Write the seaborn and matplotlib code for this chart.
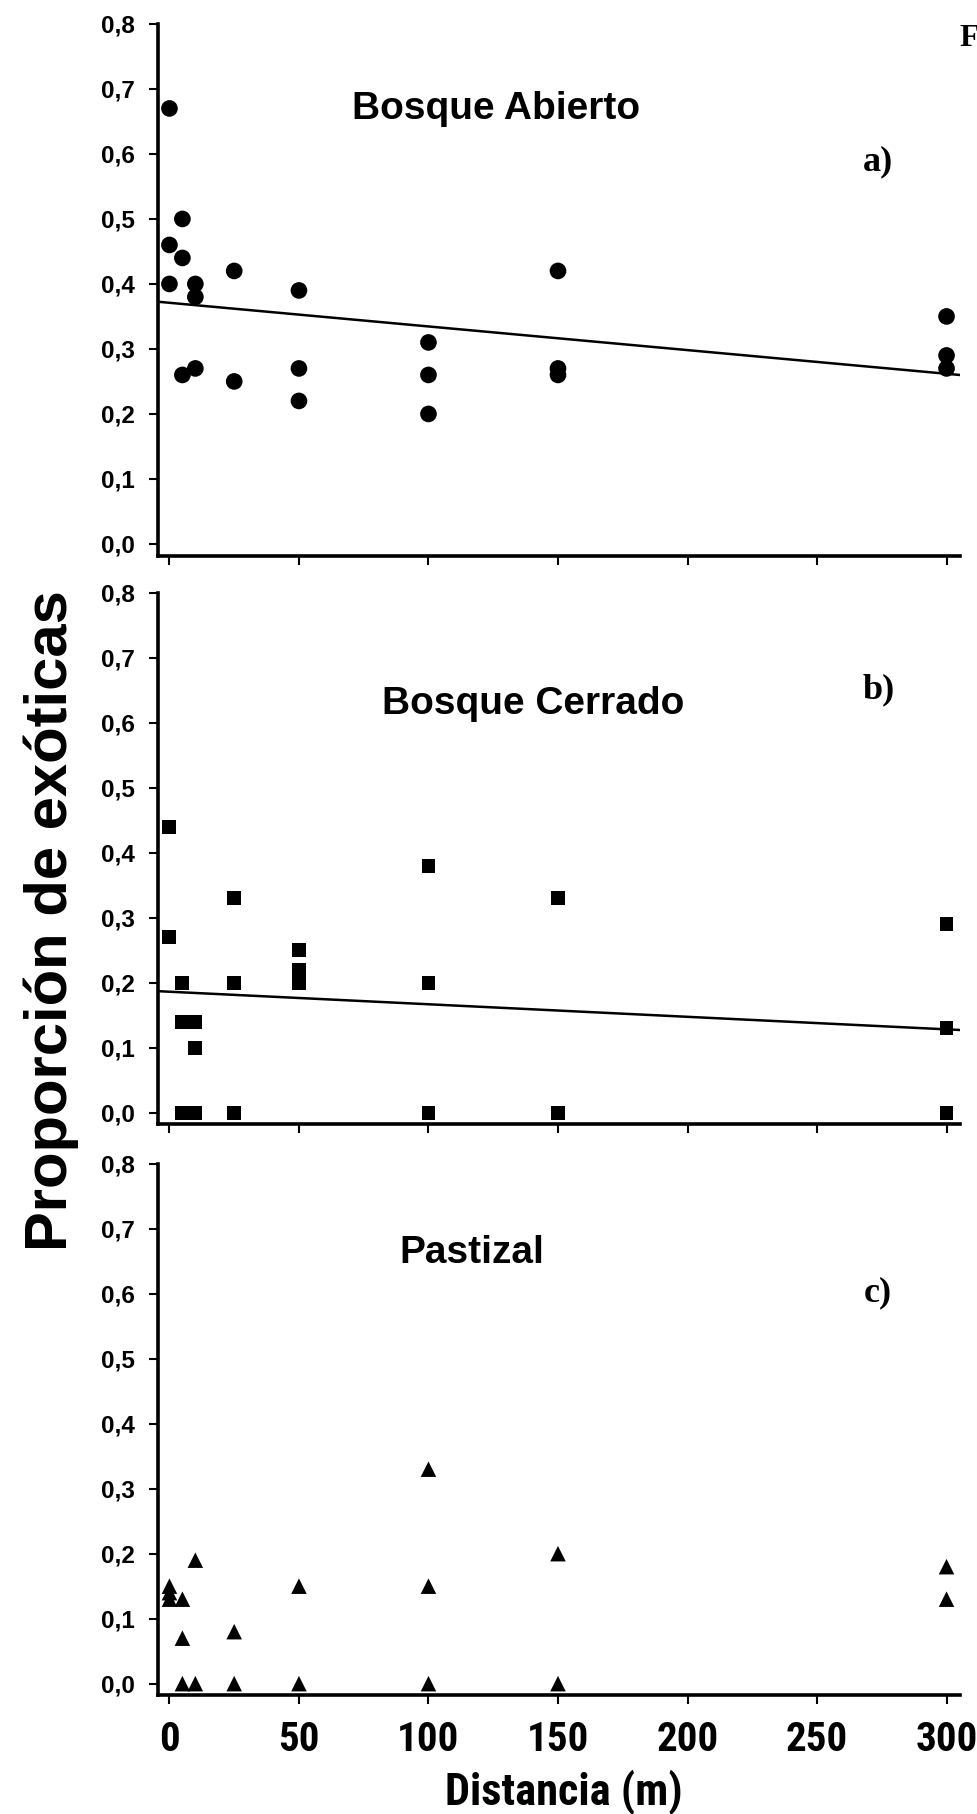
import pandas as pd
import matplotlib.pyplot as plt
import seaborn as sns
from matplotlib import font_manager

# panel a) Bosque Abierto
dist_a = [0, 0, 0, 5, 5, 5, 10, 10, 10, 25, 25, 50, 50, 50, 100, 100, 100, 150, 150, 150, 300, 300, 300]
prop_a = [0.67, 0.46, 0.40, 0.50, 0.44, 0.26, 0.40, 0.38, 0.27, 0.42, 0.25, 0.39, 0.27, 0.22,
          0.31, 0.26, 0.20, 0.42, 0.27, 0.26, 0.35, 0.29, 0.27]
fit_a = (0.371, -0.000364)   # intercept, slope as drawn

# panel b) Bosque Cerrado
dist_b = [0, 0, 5, 5, 5, 10, 10, 10, 25, 25, 25, 50, 50, 50, 50, 100, 100, 100, 150, 150, 300, 300, 300]
prop_b = [0.44, 0.27, 0.20, 0.14, 0.00, 0.14, 0.10, 0.00, 0.33, 0.20, 0.00, 0.25, 0.22, 0.21, 0.20,
          0.38, 0.20, 0.00, 0.33, 0.00, 0.29, 0.13, 0.00]
fit_b = (0.186, -0.000193)

# panel c) Pastizal
dist_c = [0, 0, 0, 5, 5, 5, 10, 10, 25, 25, 50, 50, 100, 100, 100, 150, 150, 300, 300]
prop_c = [0.15, 0.14, 0.13, 0.13, 0.07, 0.00, 0.19, 0.00, 0.08, 0.00, 0.15, 0.00, 0.33, 0.15, 0.00,
          0.20, 0.00, 0.18, 0.13]

titles = ['Bosque Abierto', 'Bosque Cerrado', 'Pastizal']
letters = ['a)', 'b)', 'c)']
x_ticks = [0, 50, 100, 150, 200, 250, 300]
y_ticks = [0.0, 0.1, 0.2, 0.3, 0.4, 0.5, 0.6, 0.7, 0.8]
y_ticklabels = ['0,0', '0,1', '0,2', '0,3', '0,4', '0,5', '0,6', '0,7', '0,8']

sns.set_style('ticks')
plt.rcParams['font.family'] = ['Liberation Sans', 'DejaVu Sans']
plt.rcParams['text.color'] = 'black'
plt.rcParams['xtick.color'] = 'black'
plt.rcParams['ytick.color'] = 'black'
plt.rcParams['xtick.labelcolor'] = 'black'
plt.rcParams['ytick.labelcolor'] = 'black'


def find_narrow_bold():
    # look for a bold condensed/narrow face, as in the original (Arial Narrow Bold)
    prefs = ['Liberation Sans Narrow', 'Arial Narrow', 'Roboto Condensed', 'Open Sans Condensed',
             'Noto Sans Condensed', 'DejaVu Sans']
    found = {}
    for f in font_manager.fontManager.ttflist:
        w = f.weight if isinstance(f.weight, int) else (700 if 'bold' in str(f.weight) else 400)
        if w < 600 or f.style != 'normal':
            continue
        fn = f.fname.lower()
        narrowish = ('narrow' in f.name.lower() or 'condensed' in f.name.lower()
                     or 'condensed' in f.stretch or 'narrow' in fn or 'condensed' in fn)
        if not narrowish or 'semicondensed' in fn or 'extracondensed' in fn:
            continue
        for p in prefs:
            if f.name.startswith(p.split()[0]) and p not in found:
                found[p] = f.fname
    for p in prefs:
        if p in found:
            return font_manager.FontProperties(fname=found[p])
    return font_manager.FontProperties(family='Liberation Sans', weight='bold')


narrow_fp = find_narrow_bold()

XLIM = (-4.4, 305.2)
YLIM = (-0.018, 0.8)

fig = plt.figure(figsize=(9.78, 18.14), dpi=100)

panels = [
    (dist_a, prop_a, 'o', 144, fit_a, 0.6937, (0.4214, 0.822), (0.898, 0.725)),
    (dist_b, prop_b, 's', 100, fit_b, 0.3802, (0.4676, 0.771), (0.898, 0.801)),
    (dist_c, prop_c, '^', 125, None, 0.0654, (0.391, 0.813), (0.898, 0.742)),
]

for i, (xs, ys, mk, size, fit, bottom, tpos, lpos) in enumerate(panels):
    ax = fig.add_axes([0.1616, bottom, 0.8200, 0.2931])
    df = pd.DataFrame({'dist': xs, 'prop': ys})
    sns.scatterplot(data=df, x='dist', y='prop', marker=mk, s=size, color='black',
                    edgecolor='none', ax=ax, zorder=3)
    if fit is not None:
        line = pd.DataFrame({'dist': list(XLIM)})
        line['prop'] = fit[0] + fit[1] * line['dist']
        sns.lineplot(data=line, x='dist', y='prop', color='black', linewidth=1.8, ax=ax)

    ax.set_xlim(*XLIM)
    ax.set_ylim(*YLIM)
    ax.set_xticks(x_ticks)
    ax.set_yticks(y_ticks)
    ax.set_yticklabels(y_ticklabels, fontsize=17.5, fontweight='bold')
    if i == 2:
        fp = narrow_fp.copy()
        fp.set_size(29.5)
        ax.set_xticklabels([str(t) for t in x_ticks], fontproperties=fp)
    else:
        ax.set_xticklabels([])
    ax.set_xlabel('')
    ax.set_ylabel('')
    sns.despine(ax=ax)
    for side in ['left', 'bottom']:
        ax.spines[side].set_linewidth(2.6)
        ax.spines[side].set_color('black')
    ax.tick_params(axis='both', direction='out', length=6.5, width=1.5, color='black')
    ax.tick_params(axis='y', pad=10)
    ax.tick_params(axis='x', pad=12)

    ax.text(tpos[0], tpos[1], titles[i], transform=ax.transAxes, ha='center', va='baseline',
            fontsize=28, fontweight='bold')
    ax.text(lpos[0], lpos[1], letters[i], transform=ax.transAxes, ha='center', va='baseline',
            fontsize=26, fontweight='bold', family='Liberation Serif')

fig.text(0.052, 0.4925, 'Proporción de exóticas', rotation=90, ha='center', va='center',
         fontsize=43, fontweight='bold')
fp = narrow_fp.copy()
fp.set_size(32)
fig.text(0.5766, 0.005, 'Distancia (m)', ha='center', va='baseline', fontproperties=fp)
fig.text(0.9806, 0.9746, 'F', ha='left', va='baseline', fontsize=23, fontweight='bold',
         family='Liberation Serif')

fig.savefig('out.png', dpi=100, facecolor='white')
